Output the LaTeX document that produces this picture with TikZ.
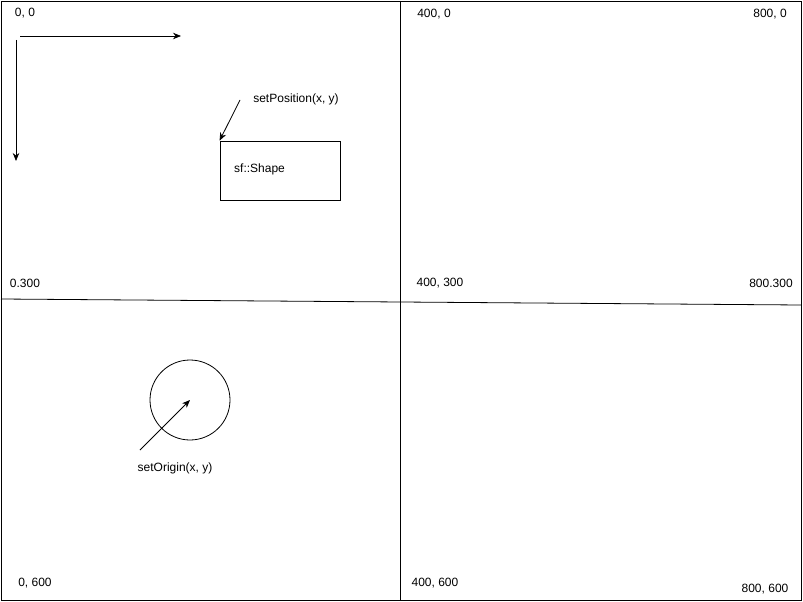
\documentclass[tikz,border=0pt]{standalone}
\usepackage{fontspec}
\setmainfont{Liberation Sans}
\usetikzlibrary{arrows.meta}
\begin{document}
\begin{tikzpicture}[x=1pt,y=-1pt,
  lbl/.style={font=\fontsize{12}{14}\selectfont, inner sep=0pt},
  arr/.style={-{Stealth[length=8pt,width=6.5pt]}, line width=0.8pt},
  ln/.style={line width=0.8pt}]
\useasboundingbox (0,0) rectangle (803,602);
\draw[ln] (1,1) rectangle (801,600);
\coordinate (vt) at (400,1);
\coordinate (vb) at (400,600);
\draw[ln] (vt) -- (vb);
\coordinate (hl) at (1,299);
\coordinate (hr) at (801,305);
\draw[ln] (hl) -- (hr);
% axes arrows
\coordinate (ha) at (20,36);
\coordinate (hb) at (181,36);
\draw[arr] (ha) -- (hb);
\coordinate (va) at (16,40);
\coordinate (vb2) at (16,161);
\draw[arr] (va) -- (vb2);
% shape
\node[draw, line width=0.8pt, minimum width=120pt, minimum height=59pt, inner sep=0pt] (shape) at (280,170.5) {};
\node[lbl, anchor=west] (shapetxt) at (234,169) {sf::Shape};
\node[lbl] (setpos) at (296,99) {setPosition(x, y)};
\coordinate (sp) at (240,100);
\draw[arr] (sp) -- (shape.north west);
% circle
\node[draw, circle, line width=0.8pt, minimum size=80pt, inner sep=0pt] (circ) at (190,400) {};
\coordinate (so) at (140,450);
\draw[arr] (so) -- (circ.center);
\node[lbl] (setorig) at (175,468) {setOrigin(x, y)};
% labels
\node[lbl] (l00) at (25,13) {0, 0};
\node[lbl] (l4000) at (434,14) {400, 0};
\node[lbl] (l8000) at (770,14) {800, 0};
\node[lbl] (l0300) at (25,283) {0.300};
\node[lbl] (l400300) at (440,283) {400, 300};
\node[lbl] (l800300) at (771,283) {800.300};
\node[lbl] (l0600) at (35,583) {0, 600};
\node[lbl] (l400600) at (435,583) {400, 600};
\node[lbl] (l800600) at (765,589) {800, 600};
\end{tikzpicture}
\end{document}
